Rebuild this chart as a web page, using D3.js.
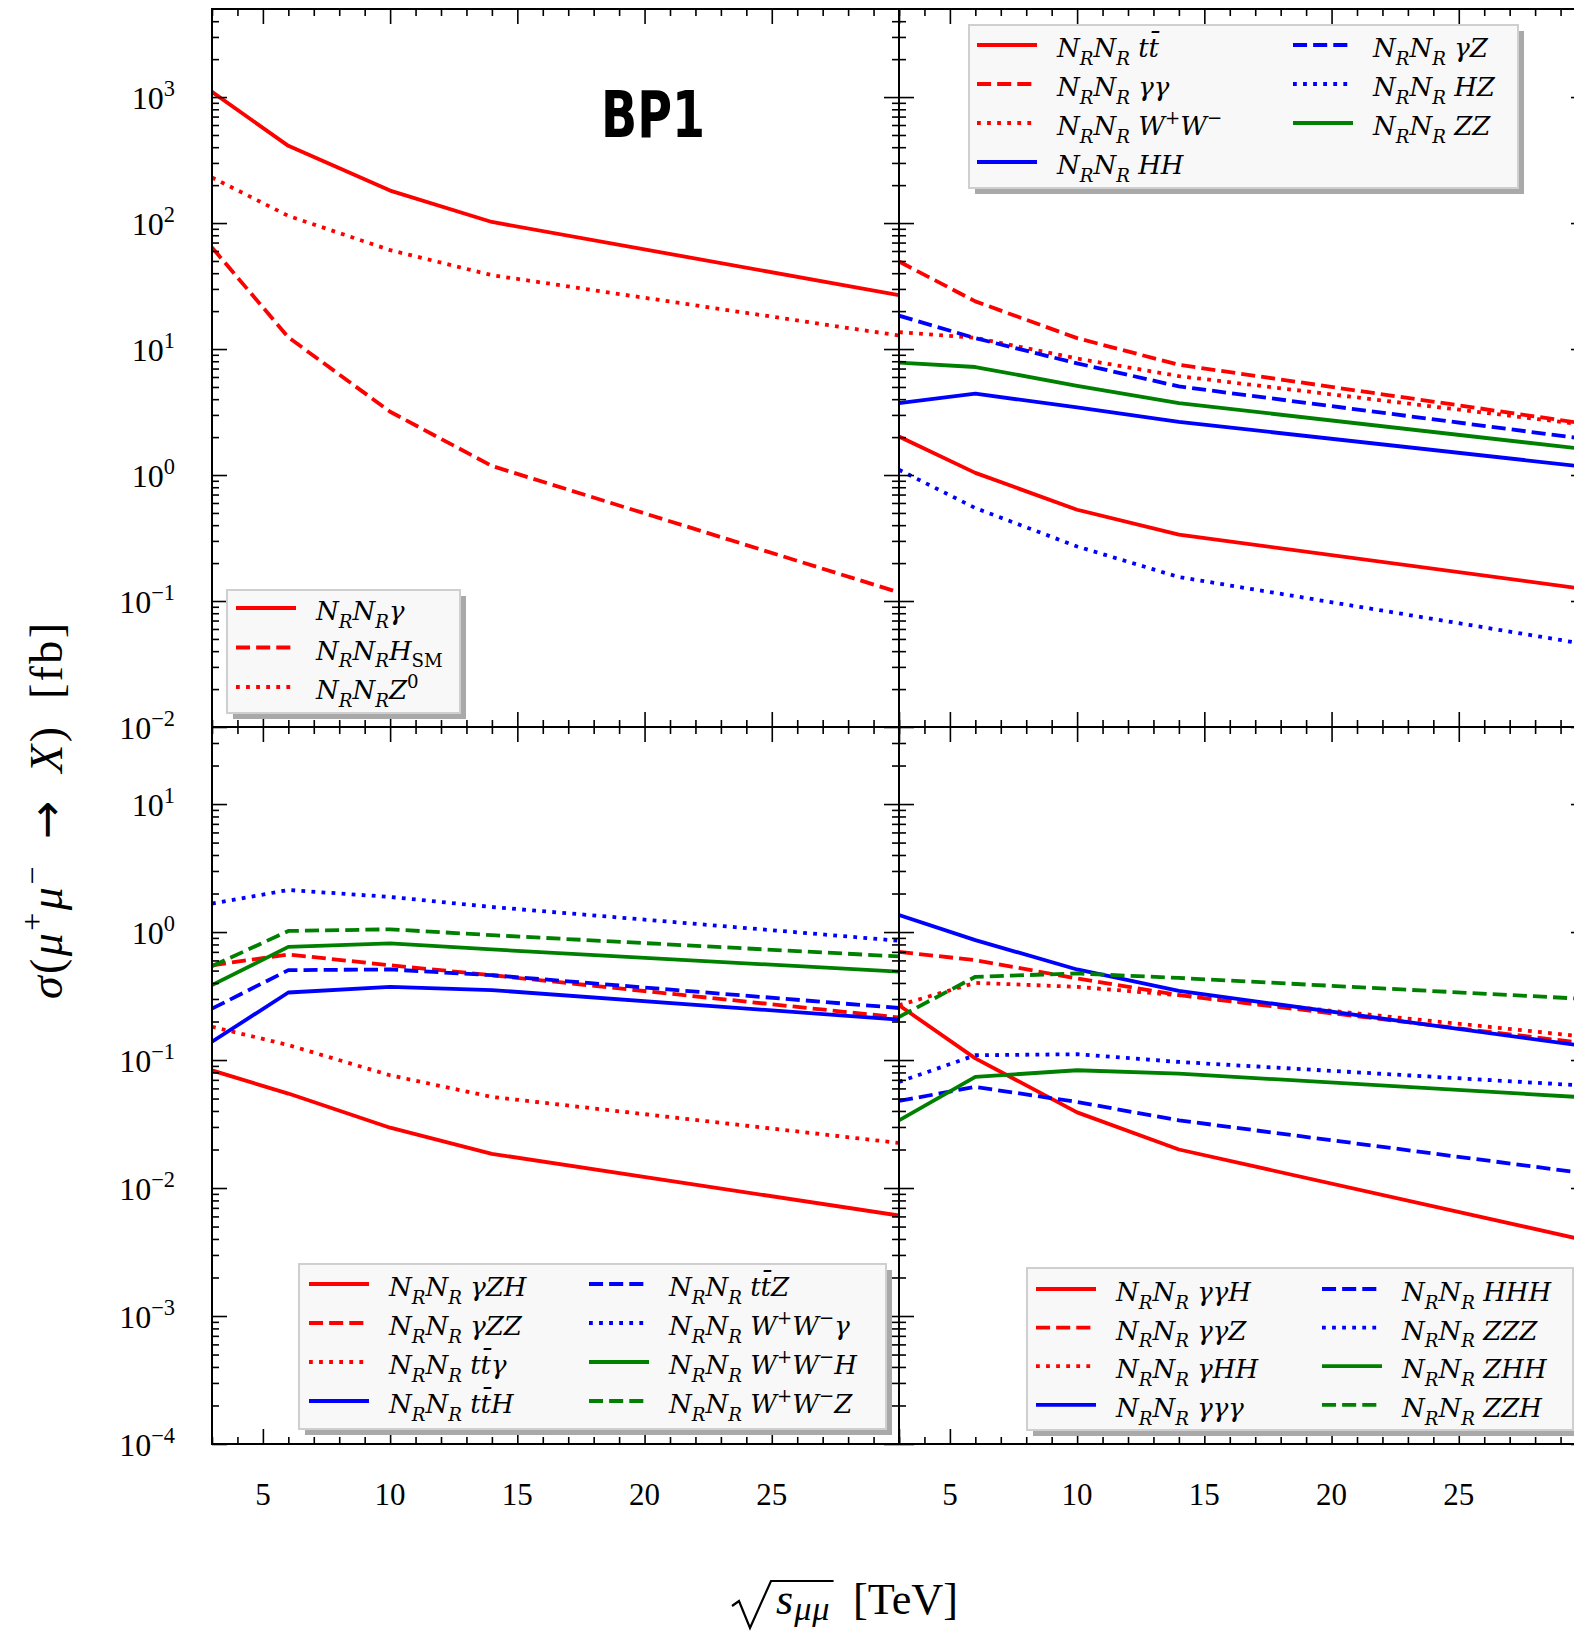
<!DOCTYPE html>
<html><head><meta charset="utf-8">
<script src="https://cdn.jsdelivr.net/npm/d3@7"></script>
<style>body{margin:0;background:#fff}svg{display:block}</style>
</head><body>
<script>
// ---------------- DATA ----------------
const energies = [3, 6, 10, 14, 30];          // sqrt(s) in TeV
const xTickValues = [5, 10, 15, 20, 25];
const topDecades = [1e-2, 1e-1, 1e0, 1e1, 1e2, 1e3];
const bottomDecades = [1e-4, 1e-3, 1e-2, 1e-1, 1e0, 1e1];
const decadeExponents = {"0.0001":"−4","0.001":"−3","0.01":"−2","0.1":"−1","1":"0","10":"1","100":"2","1000":"3"};

// top-left panel
const tlLabels = ["N_{R}N_{R}γ", "N_{R}N_{R}H_{!SM}", "N_{R}N_{R}Z^{!0}"];
const tlGamma = [1100, 410, 181, 102, 26.8];
const tlHsm   = [64, 12.4, 3.18, 1.18, 0.117];
const tlZ0    = [230, 114, 61, 38.6, 12.8];

// top-right panel
const trLabels = ["N_{R}N_{R} tt̄", "N_{R}N_{R} γγ", "N_{R}N_{R} W^{+}W^{−}", "N_{R}N_{R} HH",
                  "N_{R}N_{R} γZ", "N_{R}N_{R} HZ", "N_{R}N_{R} ZZ"];
const trTT = [2.02, 1.04, 0.53, 0.336, 0.124];
const trGG = [49.5, 23.9, 12.2, 7.5, 2.55];
const trWW = [13.6, 12.3, 8.4, 6.1, 2.5];
const trHH = [3.72, 4.42, 3.44, 2.64, 1.16];
const trGZ = [18.4, 12.2, 7.7, 5.05, 1.93];
const trHZ = [1.1, 0.547, 0.271, 0.155, 0.0454];
const trZZ = [7.8, 7.2, 5.1, 3.72, 1.6];

// bottom-left panel
const blLabels = ["N_{R}N_{R} γZH", "N_{R}N_{R} γZZ", "N_{R}N_{R} tt̄γ", "N_{R}N_{R} tt̄H",
                  "N_{R}N_{R} tt̄Z", "N_{R}N_{R} W^{+}W^{−}γ", "N_{R}N_{R} W^{+}W^{−}H", "N_{R}N_{R} W^{+}W^{−}Z"];
const blGZH  = [0.083, 0.0547, 0.0296, 0.0185, 0.0061];
const blGZZ  = [0.55, 0.668, 0.55, 0.46, 0.215];
const blTTG  = [0.182, 0.131, 0.076, 0.0515, 0.0225];
const blTTH  = [0.139, 0.337, 0.373, 0.352, 0.207];
const blTTZ  = [0.252, 0.504, 0.51, 0.46, 0.255];
const blWWG  = [1.67, 2.13, 1.88, 1.57, 0.855];
const blWWH  = [0.385, 0.766, 0.815, 0.731, 0.49];
const blWWZ  = [0.541, 1.02, 1.05, 0.946, 0.645];

// bottom-right panel
const brLabels = ["N_{R}N_{R} γγH", "N_{R}N_{R} γγZ", "N_{R}N_{R} γHH", "N_{R}N_{R} γγγ",
                  "N_{R}N_{R} HHH", "N_{R}N_{R} ZZZ", "N_{R}N_{R} ZHH", "N_{R}N_{R} ZZH"];
const brGGH = [0.268, 0.103, 0.039, 0.02, 0.0039];
const brGGZ = [0.7, 0.603, 0.434, 0.321, 0.135];
const brGHH = [0.268, 0.401, 0.373, 0.321, 0.152];
const brGGG = [1.36, 0.865, 0.51, 0.347, 0.128];
const brHHH = [0.0479, 0.0617, 0.047, 0.0338, 0.013];
const brZZZ = [0.0675, 0.109, 0.111, 0.0966, 0.063];
const brZHH = [0.0338, 0.0738, 0.0832, 0.0783, 0.051];
const brZZH = [0.217, 0.447, 0.475, 0.438, 0.3];

// ---------------- STYLES ----------------
const seriesColors = ["#ff0000", "#ff0000", "#ff0000", "#0000ff", "#0000ff", "#0000ff", "#008000", "#008000"];
const seriesDashes = ["solid", "dashed", "dotted", "solid", "dashed", "dotted", "solid", "dashed"];
const LW = 3.8;
const dashMap = {solid: null, dashed: `${3.7*LW},${1.6*LW}`, dotted: `${LW},${1.65*LW}`};

// ---------------- LAYOUT ----------------
const W = 1574, H = 1635;
const svg = d3.select("body").append("svg").attr("width", W).attr("height", H)
  .style("font-family", "'Liberation Serif', serif");

const xL = d3.scaleLinear().domain([3, 30]).range([212, 899]);
const xR = d3.scaleLinear().domain([3, 30]).range([899, 1586]);
const yT = d3.scaleLog().domain([1e-2, 5e3]).range([727, 9]);
const yB = d3.scaleLog().domain([1e-4, 40]).range([1444, 727]);

const panels = [
  {id: "tl", x: xL, y: yT, labels: tlLabels, values: [tlGamma, tlHsm, tlZ0],
   legend: {box: [227, 590, 233, 123], row0: 18, dy: 39.5, cols: [9], perCol: 3}},
  {id: "tr", x: xR, y: yT, labels: trLabels, values: [trTT, trGG, trWW, trHH, trGZ, trHZ, trZZ],
   legend: {box: [969, 25, 549, 163], row0: 20, dy: 39, cols: [8, 324], perCol: 4}},
  {id: "bl", x: xL, y: yB, labels: blLabels, values: [blGZH, blGZZ, blTTG, blTTH, blTTZ, blWWG, blWWH, blWWZ],
   legend: {box: [299, 1264, 587, 165], row0: 20, dy: 39, cols: [10, 290], perCol: 4}},
  {id: "br", x: xR, y: yB, labels: brLabels, values: [brGGH, brGGZ, brGHH, brGGG, brHHH, brZZZ, brZHH, brZZH],
   legend: {box: [1027, 1268, 546, 162], row0: 21, dy: 38.6, cols: [9, 295], perCol: 4}},
];

// rich text: _{..} sub, ^{..} sup, leading ! inside braces = upright, !{..} upright run
function rich(textSel, str, size, italicDefault, subScale, subShift) {
  const ss = subScale || 0.7;
  const sh = subShift === undefined ? 0.3 * size : subShift;
  const segs = []; let buf = ""; let i = 0;
  const flush = () => { if (buf) { segs.push({t: buf, mode: "n", up: !italicDefault}); buf = ""; } };
  while (i < str.length) {
    const c = str[i];
    if ((c === "_" || c === "^") && str[i+1] === "{") {
      flush();
      const end = str.indexOf("}", i + 2);
      let inner = str.slice(i + 2, end), up = !italicDefault;
      if (inner[0] === "!") { up = true; inner = inner.slice(1); }
      segs.push({t: inner, mode: c === "_" ? "sub" : "sup", up});
      i = end + 1;
    } else if (c === "!" && str[i+1] === "{") {
      flush();
      const end = str.indexOf("}", i + 2);
      segs.push({t: str.slice(i + 2, end), mode: "n", up: true});
      i = end + 1;
    } else { buf += c; i++; }
  }
  flush();
  let cur = 0;
  segs.forEach(s => {
    const target = s.mode === "sub" ? sh : s.mode === "sup" ? -0.42 * size : 0;
    const ts = textSel.append("tspan").attr("dy", target - cur)
      .attr("font-size", s.mode === "n" ? size : size * ss)
      .attr("font-style", s.up ? "normal" : "italic")
      .text(s.t);
    if (s.t.includes("→")) ts.style("font-family", "'DejaVu Sans', sans-serif");
    cur = target;
  });
  return textSel;
}

function minorLog(domain) {
  const out = [];
  const lo = Math.floor(Math.log10(domain[0])), hi = Math.ceil(Math.log10(domain[1]));
  for (let k = lo; k <= hi; k++) for (let m = 2; m <= 9; m++) {
    const v = m * Math.pow(10, k);
    if (v > domain[0] && v < domain[1]) out.push(v);
  }
  return out;
}
const xMinor = d3.range(3, 31).filter(v => v % 5 !== 0);
const xMajor = [5, 10, 15, 20, 25, 30];

const line = (x, y) => d3.line().x(d => x(d[0])).y(d => y(d[1]));

panels.forEach((p, pi) => {
  const [x0, x1] = p.x.range(); const [yb, yt] = p.y.range();
  const g = svg.append("g");
  const clipId = "clip" + pi;
  svg.append("clipPath").attr("id", clipId).append("rect")
    .attr("x", x0).attr("y", yt).attr("width", x1 - x0).attr("height", yb - yt);

  // lines
  const lg = g.append("g").attr("clip-path", `url(#${clipId})`);
  p.values.forEach((vals, si) => {
    lg.append("path").datum(energies.map((e, k) => [e, vals[k]]))
      .attr("d", line(p.x, p.y))
      .attr("fill", "none").attr("stroke", seriesColors[si]).attr("stroke-width", LW)
      .attr("stroke-dasharray", dashMap[seriesDashes[si]])
      .attr("stroke-linejoin", "round");
  });

  // ticks (inward on all four sides)
  const ax = g.append("g");
  const yMin = minorLog(p.y.domain());
  const yMaj = (p.y === yT ? topDecades : bottomDecades);
  const defs = [
    [d3.axisBottom(p.x).tickValues(xMajor).tickSize(-15), `translate(0,${yb})`],
    [d3.axisBottom(p.x).tickValues(xMinor).tickSize(-7), `translate(0,${yb})`],
    [d3.axisTop(p.x).tickValues(xMajor).tickSize(-15), `translate(0,${yt})`],
    [d3.axisTop(p.x).tickValues(xMinor).tickSize(-7), `translate(0,${yt})`],
    [d3.axisLeft(p.y).tickValues(yMaj).tickSize(-15), `translate(${x0},0)`],
    [d3.axisLeft(p.y).tickValues(yMin).tickSize(-7), `translate(${x0},0)`],
    [d3.axisRight(p.y).tickValues(yMaj).tickSize(-15), `translate(${x1},0)`],
    [d3.axisRight(p.y).tickValues(yMin).tickSize(-7), `translate(${x1},0)`],
  ];
  defs.forEach(([a, tr]) => {
    const s = ax.append("g").attr("transform", tr).call(a.tickFormat(() => "").tickSizeOuter(0));
    s.select(".domain").remove();
    s.selectAll(".tick line").attr("stroke", "#000").attr("stroke-width", 1.6);
  });
  // spines
  g.append("rect").attr("x", x0).attr("y", yt).attr("width", x1 - x0).attr("height", yb - yt)
    .attr("fill", "none").attr("stroke", "#000").attr("stroke-width", 2);

  // tick labels
  if (p.id === "tl" || p.id === "bl") {
    yMaj.forEach(v => {
      const t = g.append("text").attr("x", 175).attr("y", p.y(v) + 12).attr("text-anchor", "end");
      rich(t, "10^{" + decadeExponents[String(v)] + "}", 32, false);
    });
  }
  if (p.id === "bl" || p.id === "br") {
    xTickValues.forEach(v => {
      g.append("text").attr("x", p.x(v)).attr("y", 1505).attr("text-anchor", "middle")
        .attr("font-size", 31).text(v);
    });
  }

  // legend
  const L = p.legend; const [bx, by, bw, bh] = L.box;
  const lgd = svg.append("g");
  lgd.append("rect").attr("x", bx + 6).attr("y", by + 6).attr("width", bw).attr("height", bh).attr("fill", "#a9a9a9");
  lgd.append("rect").attr("x", bx).attr("y", by).attr("width", bw).attr("height", bh)
    .attr("fill", "#f8f8f8").attr("stroke", "#cfcfcf").attr("stroke-width", 2);
  p.labels.forEach((lab, si) => {
    const col = Math.floor(si / L.perCol), row = si % L.perCol;
    const hx = bx + L.cols[col], hy = by + L.row0 + row * L.dy;
    lgd.append("line").attr("x1", hx).attr("x2", hx + 60).attr("y1", hy).attr("y2", hy)
      .attr("stroke", seriesColors[si]).attr("stroke-width", LW)
      .attr("stroke-dasharray", dashMap[seriesDashes[si]]);
    const t = lgd.append("text").attr("x", hx + 80).attr("y", hy + 12)
      .style("font-family", "'DejaVu Serif', serif");
    rich(t, lab, 26, true);
  });
});

// BP1 label
svg.append("text").attr("x", 653).attr("y", 137).attr("text-anchor", "middle")
  .style("font-family", "'Comic Sans MS','DejaVu Sans Condensed','DejaVu Sans',sans-serif")
  .attr("font-weight", "bold").attr("font-size", 64)
  .attr("textLength", 104).attr("lengthAdjust", "spacingAndGlyphs").text("BP1");

// y axis label (rotated)
const yl = svg.append("text").attr("transform", "translate(62,811) rotate(-90)")
  .attr("text-anchor", "middle");
rich(yl, "σ!{(}μ^{!+}μ^{!−}!{\u2002→\u2002}X!{)\u2002[fb]}", 46, true);
const yLen = yl.node().getComputedTextLength();
if (Math.abs(yLen - 376) / 376 < 0.15) yl.attr("textLength", 376).attr("lengthAdjust", "spacing");

// x axis label: radical + s_{μμ}, then [TeV]
const sx = 776, baseY = 1614;
const xl = svg.append("text").attr("x", sx).attr("y", baseY).attr("letter-spacing", 1);
rich(xl, "s_{μμ}", 44, true, 0.78, 6);
const subEnd = sx + xl.node().getComputedTextLength() + 3;
svg.append("text").attr("x", 853).attr("y", baseY).attr("font-size", 44).text("[TeV]")
  .attr("textLength", 105).attr("lengthAdjust", "spacingAndGlyphs");
svg.append("path")
  .attr("d", `M${sx - 44},${baseY - 8} L${sx - 37},${baseY - 13} L${sx - 26},${baseY + 14} L${sx - 5},${baseY - 33} L${subEnd},${baseY - 33}`)
  .attr("fill", "none").attr("stroke", "#000").attr("stroke-width", 2.2).attr("stroke-linejoin", "miter");
</script>
</body></html>
